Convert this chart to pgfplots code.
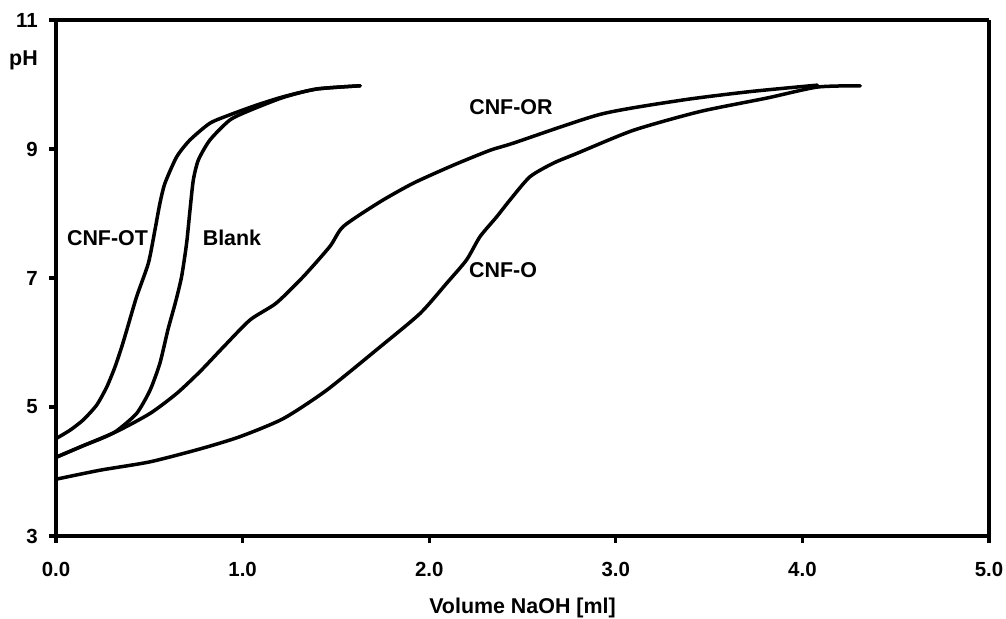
\documentclass[border=0pt]{standalone}
\usepackage{fontspec}
\setmainfont{Liberation Sans}
\usepackage{pgfplots}
\pgfplotsset{compat=1.18}
\usepackage{pgfplotstable}

% titration curves, pH vs. added NaOH
\pgfplotstableread{
x y
0.000 4.51
0.075 4.64
0.146 4.80
0.218 5.03
0.272 5.31
0.316 5.62
0.352 5.93
0.379 6.19
0.432 6.71
0.495 7.23
0.530 7.74
0.557 8.16
0.584 8.47
0.647 8.88
0.718 9.14
0.825 9.40
0.932 9.53
1.075 9.68
1.218 9.81
1.397 9.93
1.630 9.98
}\cnfot

\pgfplotstableread{
x y
0.000 4.22
0.146 4.40
0.250 4.52
0.325 4.63
0.432 4.90
0.504 5.26
0.557 5.68
0.600 6.20
0.640 6.62
0.673 7.02
0.700 7.54
0.718 8.05
0.736 8.52
0.763 8.83
0.825 9.14
0.932 9.45
1.040 9.60
1.218 9.80
1.397 9.93
1.630 9.98
}\blank

\pgfplotstableread{
x y
0.000 4.22
0.146 4.40
0.325 4.62
0.504 4.90
0.647 5.21
0.772 5.55
0.897 5.93
1.040 6.35
1.180 6.61
1.325 7.02
1.468 7.49
1.540 7.80
1.736 8.18
1.915 8.47
2.130 8.75
2.326 8.98
2.450 9.09
2.920 9.54
3.360 9.76
3.720 9.89
4.080 9.99
}\cnfor

\pgfplotstableread{
x y
0.000 3.88
0.236 4.02
0.504 4.15
0.772 4.35
0.986 4.54
1.218 4.82
1.450 5.26
1.736 5.93
1.951 6.45
2.094 6.92
2.200 7.28
2.272 7.64
2.362 7.95
2.433 8.21
2.540 8.57
2.665 8.78
2.790 8.93
3.094 9.29
3.450 9.58
3.810 9.79
4.080 9.96
4.310 9.98
}\cnfo

\begin{document}
\begin{tikzpicture}
\begin{axis}[
  name=ax,
  scale only axis,
  width=933bp, height=516bp,
  xmin=0, xmax=5, ymin=3, ymax=11,
  xtick={0,1,2,3,4,5}, ytick={3,5,7,9,11},
  xtick pos=bottom, ytick pos=left,
  x tick label style={/pgf/number format/fixed,
    /pgf/number format/fixed zerofill,
    /pgf/number format/precision=1,
    anchor=north, inner sep=0pt, yshift=-19bp},
  y tick label style={anchor=east, inner sep=0pt, xshift=-11bp},
  /pgf/number format/assume math mode=true,
  tick label style={font=\fontsize{20.5}{23}\selectfont\bfseries},
  separate axis lines,
  axis line style={line width=3.2bp, black},
  xtick align=outside, ytick align=outside,
  major tick length=7bp,
  major tick style={black, line width=3.2bp},
  xlabel={Volume NaOH [ml]},
  xlabel style={at={(axis description cs:0.5,0)}, anchor=north,
    inner sep=0pt, yshift=-62bp},
  label style={font=\fontsize{21.5}{24}\selectfont\bfseries},
  clip=false,
  curve/.style={black, line width=3.5bp, no markers, line join=round, line cap=round, smooth, tension=0.4},
]
\addplot[curve] table {\cnfot};
\addplot[curve] table {\blank};
\addplot[curve] table {\cnfor};
\addplot[curve] table {\cnfo};

\node[anchor=base east, inner sep=0pt, xshift=-18bp, font=\fontsize{21.5}{24}\selectfont\bfseries] at (axis cs:0,10.30) {pH};
\begin{scope}[every node/.style={inner sep=0pt, font=\fontsize{21.5}{24}\selectfont\bfseries}]
\node at (axis cs:0.276,7.62) {CNF-OT};
\node at (axis cs:0.943,7.63) {Blank};
\node at (axis cs:2.438,9.65) {CNF-OR};
\node at (axis cs:2.396,7.12) {CNF-O};
\end{scope}
\end{axis}
\path ([shift={(-56bp,-82bp)}]ax.south west) rectangle ([shift={(17bp,20bp)}]ax.north east);
\end{tikzpicture}
\end{document}
